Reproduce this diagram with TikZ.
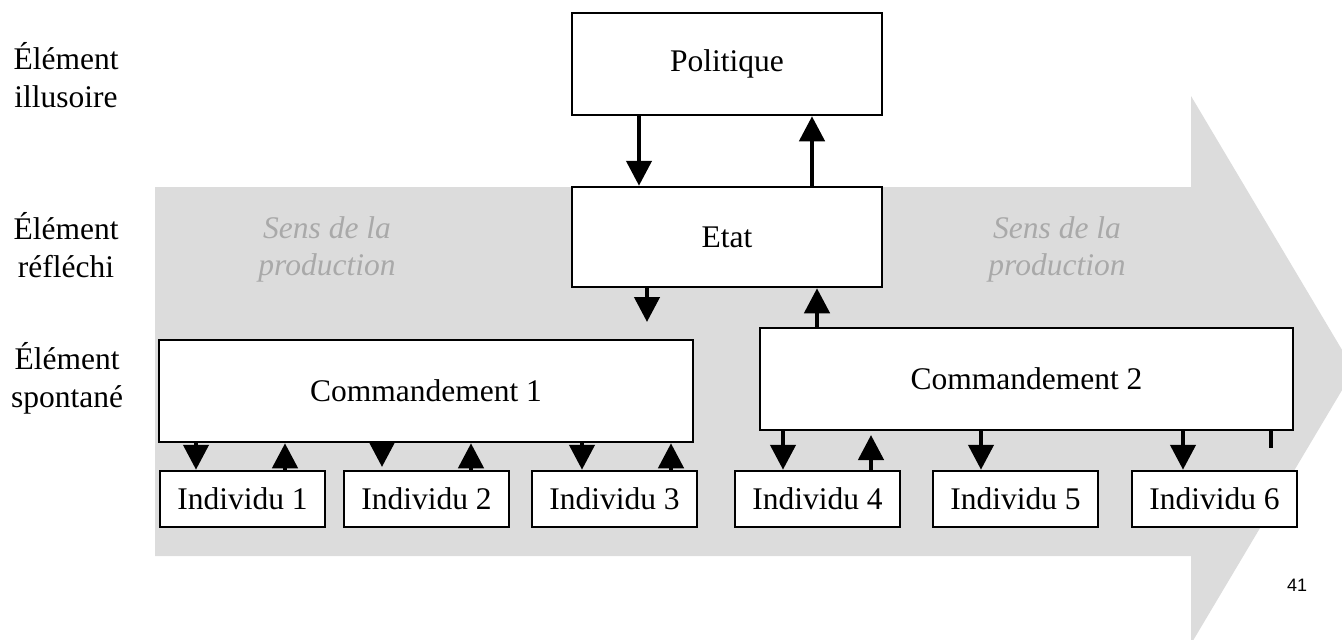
\documentclass[tikz,border=0pt]{standalone}
\usepackage{fontspec}
\setmainfont{Liberation Serif}
\newfontfamily\sansf{Liberation Sans}
\usetikzlibrary{arrows.meta}
\definecolor{bandgray}{HTML}{DCDCDC}
\definecolor{textgray}{HTML}{A9A9A9}
\tikzset{
  box/.style={draw=black, line width=2.5pt, fill=white, rectangle, inner sep=0pt,
    font=\fontsize{31.5}{36}\selectfont},
  arr/.style={line width=4.5pt, -{Triangle[width=25pt,length=25pt]}},
  stub/.style={line width=4.5pt},
  lbl/.style={align=center, font=\fontsize{31.5}{38}\selectfont, inner sep=0pt},
  sens/.style={align=center, text=textgray, font=\fontsize{31.5}{37}\selectfont\itshape, inner sep=0pt}
}
\begin{document}
\begin{tikzpicture}[x=1pt, y=-1pt]
\useasboundingbox (0,0) rectangle (1342,640);
% big production arrow
\begin{scope}
\clip (0,0) rectangle (1342,640);
\fill[bandgray] (155,187) -- (1191,187) -- (1191,96) -- (1354,370) -- (1191,644) -- (1191,556) -- (155,556) -- cycle;
\end{scope}
% left labels
\node[lbl] (l1) at (66,75) {Élément\\illusoire};
\node[lbl] (l2) at (66,245) {Élément\\réfléchi};
\node[lbl] (l3) at (67,378) {Élément\\spontané};
% production text
\node[sens] (s1) at (327,249) {Sens de la\\production};
\node[sens] (s2) at (1057,249) {Sens de la\\production};
% boxes
\node[box, minimum width=310pt, minimum height=102pt] (pol) at (727,64) {Politique};
\node[box, minimum width=310pt, minimum height=100pt] (etat) at (727,237) {Etat};
\node[box, minimum width=534pt, minimum height=102pt] (c1) at (426,391) {Commandement 1};
\node[box, minimum width=533pt, minimum height=102pt] (c2) at (1026.5,379) {Commandement 2};
\node[box, minimum width=165pt, minimum height=56pt] (i1) at (242.5,499) {Individu 1};
\node[box, minimum width=165pt, minimum height=56pt] (i2) at (426.5,499) {Individu 2};
\node[box, minimum width=165pt, minimum height=56pt] (i3) at (614.5,499) {Individu 3};
\node[box, minimum width=165pt, minimum height=56pt] (i4) at (817.5,499) {Individu 4};
\node[box, minimum width=165pt, minimum height=56pt] (i5) at (1015.5,499) {Individu 5};
\node[box, minimum width=165pt, minimum height=56pt] (i6) at (1214.5,499) {Individu 6};
% page number
\node[font=\sansf\fontsize{18}{20}\selectfont, inner sep=0pt] (pg) at (1297,585) {41};
% x positions
\coordinate (xa) at (639,0);
\coordinate (xb) at (812,0);
\coordinate (xc) at (647,0);
\coordinate (xd) at (817,0);
\coordinate (x1) at (196,0);
\coordinate (x2) at (285,0);
\coordinate (x4) at (471,0);
\coordinate (x5) at (582,0);
\coordinate (x6) at (671,0);
\coordinate (x7) at (783,0);
\coordinate (x9) at (981,0);
\coordinate (x10) at (1183,0);
% free ends
\coordinate (etatfree) at (647,322);
\coordinate (c1free) at (382,467);
\coordinate (i4free) at (871,435);
\coordinate (stubend) at (1271,448);
% connectors
\draw[arr] (pol.south -| xa) -- (etat.north -| xa);
\draw[arr] (etat.north -| xb) -- (pol.south -| xb);
\draw[arr] (etat.south -| xc) -- (etatfree);
\draw[arr] (c2.north -| xd) -- (etat.south -| xd);
\draw[arr] (c1.south -| x1) -- (i1.north -| x1);
\draw[arr] (i1.north -| x2) -- (c1.south -| x2);
\draw[arr] (c1.south -| c1free) -- (c1free);
\draw[arr] (i2.north -| x4) -- (c1.south -| x4);
\draw[arr] (c1.south -| x5) -- (i3.north -| x5);
\draw[arr] (i3.north -| x6) -- (c1.south -| x6);
\draw[arr] (c2.south -| x7) -- (i4.north -| x7);
\draw[arr] (i4.north -| i4free) -- (i4free);
\draw[arr] (c2.south -| x9) -- (i5.north -| x9);
\draw[arr] (c2.south -| x10) -- (i6.north -| x10);
\draw[stub] (c2.south -| stubend) -- (stubend);
\end{tikzpicture}
\end{document}
